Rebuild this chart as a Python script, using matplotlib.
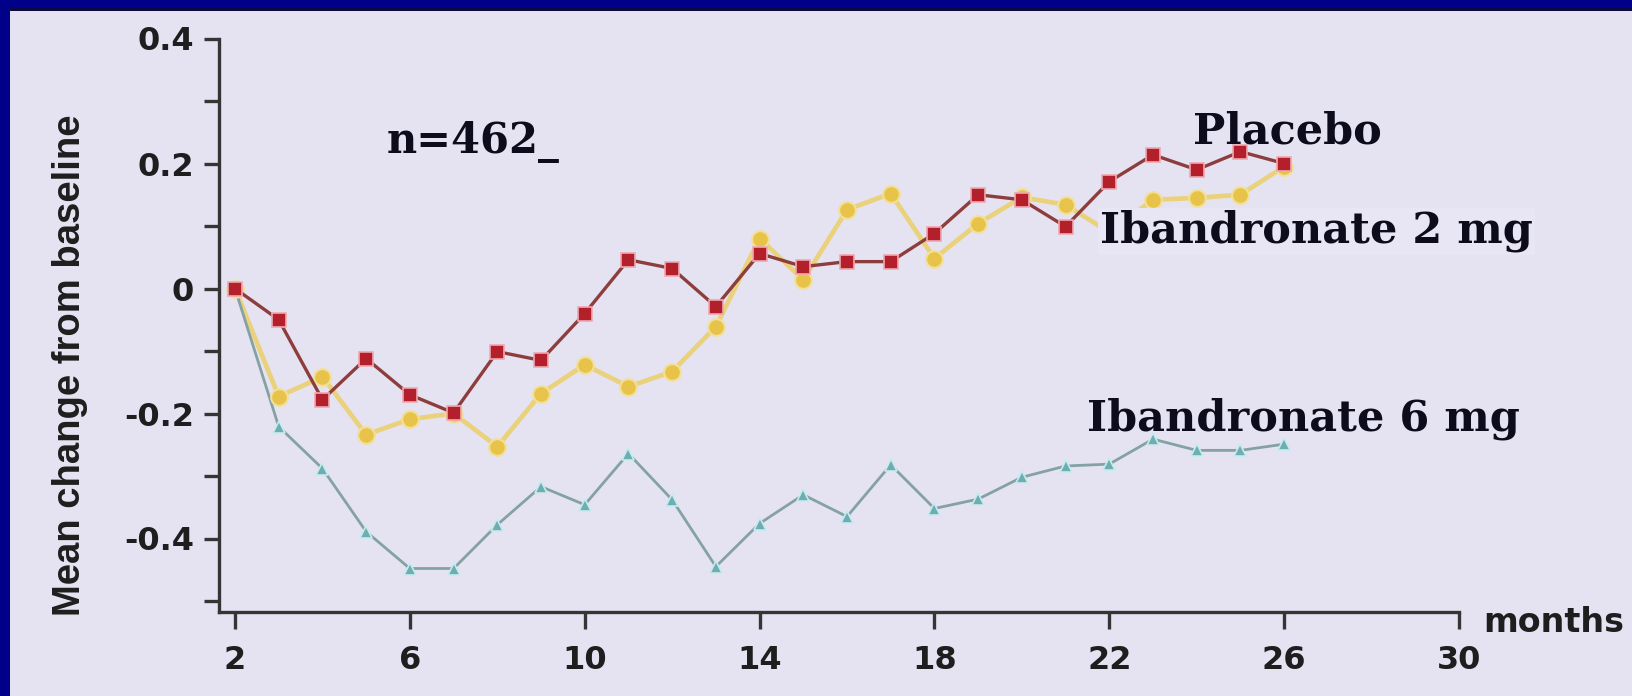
import matplotlib
matplotlib.use("Agg")
import matplotlib.pyplot as plt
from matplotlib.patches import Rectangle

# ---------------- data ----------------
months = [2, 3, 4, 5, 6, 7, 8, 9, 10, 11, 12, 13, 14, 15, 16, 17, 18, 19, 20, 21, 22, 23, 24, 25, 26]
placebo = [0.0, -0.050, -0.178, -0.112, -0.170, -0.199, -0.101, -0.115, -0.040, 0.046, 0.032, -0.029,
           0.056, 0.035, 0.043, 0.043, 0.088, 0.150, 0.142, 0.099, 0.171, 0.214, 0.190, 0.219, 0.200]
iban_2mg = [0.0, -0.173, -0.141, -0.234, -0.209, -0.200, -0.253, -0.168, -0.122, -0.157, -0.133, -0.061,
            0.080, 0.014, 0.126, 0.152, 0.048, 0.104, 0.146, 0.134, 0.090, 0.142, 0.145, 0.150, 0.195]
iban_6mg = [0.0, -0.221, -0.288, -0.389, -0.448, -0.448, -0.378, -0.317, -0.346, -0.264, -0.338, -0.445,
            -0.376, -0.330, -0.365, -0.282, -0.352, -0.337, -0.302, -0.284, -0.281, -0.241, -0.259, -0.259, -0.249]

x_ticks = [2, 6, 10, 14, 18, 22, 26, 30]
y_major = [-0.4, -0.2, 0.0, 0.2, 0.4]
y_major_labels = ["-0.4", "-0.2", "0", "0.2", "0.4"]
y_minor = [-0.5, -0.3, -0.1, 0.1, 0.3]

series_names = ["Placebo", "Ibandronate 2 mg", "Ibandronate 6 mg"]
n_label = "n=462_"
y_label = "Mean change from baseline"
x_unit = "months"

# ---------------- figure ----------------
W, H = 1633, 696
BG = "#e5e3f2"
NAVY = "#000088"
fig = plt.figure(figsize=(W / 100, H / 100), dpi=100, facecolor=BG)

# navy slide border (top and left)
fig.patches.append(Rectangle((0, 1 - 8 / H), 1, 8 / H, transform=fig.transFigure,
                             facecolor=NAVY, edgecolor="none", zorder=0))
fig.patches.append(Rectangle((0, 1 - 11 / H), 1, 3 / H, transform=fig.transFigure,
                             facecolor="#0a0a40", edgecolor="none", zorder=0))
fig.patches.append(Rectangle((0, 0), 10 / W, 1, transform=fig.transFigure,
                             facecolor=NAVY, edgecolor="none", zorder=0))

ax_left, ax_right = 219 / W, 1459 / W
ax_bottom, ax_top = 1 - 612 / H, 1 - 38.5 / H
ax = fig.add_axes([ax_left, ax_bottom, ax_right - ax_left, ax_top - ax_bottom])
ax.set_facecolor("none")

# series
ax.plot(months, iban_2mg, color="#ead27c", lw=3.4, zorder=2)
ax.plot(months, iban_2mg, ls="none", marker="o", ms=12, mfc="#e8c34a", mec="#f2df98", mew=1.5, zorder=3)
ax.plot(months, iban_6mg, color="#84a2a4", lw=2.0, zorder=2)
ax.plot(months, iban_6mg, ls="none", marker="^", ms=8, mfc="#6fadb2", mec="#c4ecef", mew=1.2, zorder=3)
ax.plot(months, placebo, color="#8e3d3d", lw=2.4, zorder=4)
ax.plot(months, placebo, ls="none", marker="s", ms=9.5, mfc="#b3202c", mec="#f0a8b0", mew=1.2, zorder=5)

ax.set_xlim(2 - 16 / 43.71, 30)
ax.set_ylim(-0.5176, 0.4)

for s in ["top", "right"]:
    ax.spines[s].set_visible(False)
for s in ["left", "bottom"]:
    ax.spines[s].set_color("#353535")
    ax.spines[s].set_linewidth(2.4)

ax.set_xticks(x_ticks)
ax.set_xticklabels([str(t) for t in x_ticks])
ax.set_yticks(y_major)
ax.set_yticklabels(y_major_labels)
ax.set_yticks(y_minor, minor=True)

ax.tick_params(axis="x", direction="out", length=12, width=2.4, color="#353535", pad=12,
               labelsize=23, labelcolor="#1e1e1e")
ax.tick_params(axis="y", which="both", direction="out", length=11, width=2.4, color="#353535", pad=7,
               labelsize=23, labelcolor="#1e1e1e")
for lab in ax.get_xticklabels() + ax.get_yticklabels():
    lab.set_fontfamily("DejaVu Sans")
    lab.set_fontweight("bold")

# y label
fig.text(70 / W, 1 - 365 / H, y_label, rotation=90, ha="center", va="center",
         fontsize=27.5, fontweight="bold", family="Liberation Sans", color="#1e1e1e")
# x unit label
fig.text(1483 / W, 1 - 632 / H, x_unit, ha="left", va="baseline",
         fontsize=24, fontweight="bold", family="DejaVu Sans", color="#1e1e1e")

# annotations
serif = dict(family="DejaVu Serif", fontweight="bold", color="#0c0c1c", va="baseline", ha="left")
fig.text(387 / W, 1 - 153 / H, n_label, fontsize=30, **serif)
fig.text(1193 / W, 1 - 144 / H, series_names[0], fontsize=31, zorder=1, **serif)
fig.text(1100 / W, 1 - 243 / H, series_names[1], fontsize=31, zorder=10,
         bbox=dict(boxstyle="square,pad=0.05", facecolor="#e8e6f4", edgecolor="none"), **serif)
fig.text(1087 / W, 1 - 430 / H, series_names[2], fontsize=31, zorder=1, **serif)

fig.savefig("out.png", dpi=100, facecolor=BG)
